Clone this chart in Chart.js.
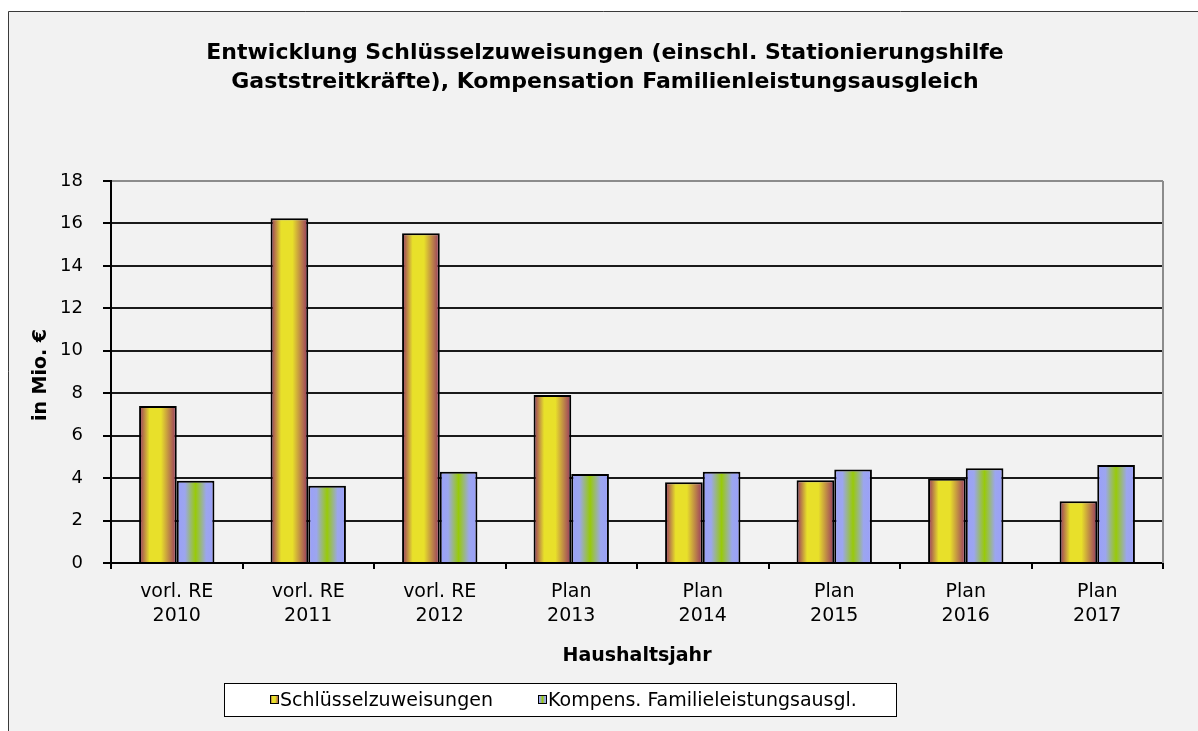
<!DOCTYPE html>
<html><head><meta charset="utf-8">
<script src="https://cdn.jsdelivr.net/npm/chart.js@4.4.1/dist/chart.umd.min.js"></script>
<style>html,body{margin:0;padding:0;background:#fff;overflow:hidden}</style>
</head><body>
<canvas id="c" width="1198" height="731" style="display:block;width:1198px;height:731px"></canvas>
<script>
// ---- data ----
const categories = [['vorl. RE','2010'],['vorl. RE','2011'],['vorl. RE','2012'],['Plan','2013'],['Plan','2014'],['Plan','2015'],['Plan','2016'],['Plan','2017']];
const schluesselzuweisungen = [7.40, 16.24, 15.54, 7.92, 3.80, 3.90, 3.97, 2.91];
const kompensFamilie = [3.88, 3.64, 4.30, 4.19, 4.30, 4.40, 4.46, 4.62];
const seriesNames = ['Schlüsselzuweisungen', 'Kompens. Familieleistungsausgl.'];
const yTickValues = [0, 2, 4, 6, 8, 10, 12, 14, 16, 18];
const titleLines = ['Entwicklung Schlüsselzuweisungen (einschl. Stationierungshilfe', 'Gaststreitkräfte), Kompensation Familienleistungsausgleich'];
const xAxisTitle = 'Haushaltsjahr';
const yAxisTitle = 'in Mio. €';

// ---- styles ----
const FONT = '"DejaVu Sans", Verdana, sans-serif';
const gradStops = [
  [[0, '#933060'], [0.28, '#e8e02a'], [0.58, '#e8e02a'], [1, '#963462']],
  [[0, '#9a9ffb'], [0.22, '#9ca6ee'], [0.5, '#98ca08'], [0.78, '#9ca6ee'], [1, '#9a9ffb']]
];
function makeGrad(ctx, x0, x1, idx) {
  const g = ctx.createLinearGradient(x0, 0, x1, 0);
  gradStops[idx].forEach(s => g.addColorStop(s[0], s[1]));
  return g;
}

const decor = {
  id: 'decor',
  beforeDraw(chart) {
    const ctx = chart.ctx;
    ctx.save();
    ctx.fillStyle = '#ffffff';
    ctx.fillRect(0, 0, chart.width, chart.height);
    ctx.fillStyle = '#f2f2f2';
    ctx.fillRect(8, 11, chart.width - 8, chart.height - 11);
    ctx.strokeStyle = '#3a3a3a';
    ctx.lineWidth = 1;
    ctx.beginPath();
    ctx.moveTo(8.5, chart.height);
    ctx.lineTo(8.5, 11.5);
    ctx.lineTo(chart.width, 11.5);
    ctx.stroke();
    ctx.restore();
  },
  beforeDatasetsDraw(chart) {
    const ctx = chart.ctx;
    chart.data.datasets.forEach((ds, di) => {
      const meta = chart.getDatasetMeta(di);
      meta.data.forEach(el => {
        const x0 = el.x - el.width / 2, x1 = el.x + el.width / 2;
        el.options = Object.assign({}, el.options, { backgroundColor: makeGrad(ctx, x0, x1, di) });
      });
    });
  },
  afterDraw(chart) {
    const ctx = chart.ctx;
    const a = chart.chartArea;
    ctx.save();
    // plot area right border
    ctx.strokeStyle = '#8c8c8c';
    ctx.lineWidth = 2;
    ctx.beginPath();
    ctx.moveTo(a.right, a.top);
    ctx.lineTo(a.right, a.bottom);
    ctx.stroke();
    // title
    ctx.fillStyle = '#000';
    ctx.textAlign = 'center';
    ctx.textBaseline = 'alphabetic';
    ctx.font = 'bold 22px ' + FONT;
    ctx.fillText(titleLines[0], 605, 59);
    ctx.fillText(titleLines[1], 605, 88);
    // x axis title
    ctx.font = 'bold 19px ' + FONT;
    ctx.fillText(xAxisTitle, (a.left + a.right) / 2, 661);
    // y axis title
    ctx.save();
    ctx.translate(46, (a.top + a.bottom) / 2 + 3);
    ctx.rotate(-Math.PI / 2);
    ctx.fillText(yAxisTitle, 0, 0);
    ctx.restore();
    // legend
    ctx.fillStyle = '#ffffff';
    ctx.fillRect(224, 683, 673, 34);
    ctx.strokeStyle = '#000';
    ctx.lineWidth = 1;
    ctx.strokeRect(224.5, 683.5, 672, 33);
    const items = [{ mx: 270, tx: 280 }, { mx: 538, tx: 548 }];
    ctx.font = '19px ' + FONT;
    ctx.textAlign = 'left';
    ctx.textBaseline = 'middle';
    items.forEach((it, i) => {
      ctx.fillStyle = makeGrad(ctx, it.mx, it.mx + 9, i);
      ctx.fillRect(it.mx, 695, 9, 9);
      ctx.strokeStyle = '#000';
      ctx.strokeRect(it.mx + 0.5, 695.5, 8, 8);
      ctx.fillStyle = '#000';
      ctx.fillText(chart.data.datasets[i].label, it.tx, 701);
    });
    ctx.restore();
  }
};

new Chart(document.getElementById('c'), {
  type: 'bar',
  data: {
    labels: categories,
    datasets: [
      { label: seriesNames[0], data: schluesselzuweisungen, backgroundColor: '#e8e02a', borderColor: '#000', borderWidth: 2 },
      { label: seriesNames[1], data: kompensFamilie, backgroundColor: '#9a9ffb', borderColor: '#000', borderWidth: 2 }
    ]
  },
  options: {
    responsive: false,
    devicePixelRatio: 1,
    animation: false,
    events: [],
    layout: { padding: { left: 0, top: 181, right: 35, bottom: 0 } },
    datasets: { bar: { categoryPercentage: 0.573, barPercentage: 1 } },
    plugins: { legend: { display: false }, title: { display: false }, tooltip: { enabled: false } },
    scales: {
      x: {
        offset: true,
        afterFit(s) { s.height = 168; },
        grid: { offset: true, drawOnChartArea: false, drawTicks: true, tickLength: 6, color: '#000', lineWidth: 2 },
        border: { display: true, color: '#000', width: 2 },
        ticks: { color: '#000', padding: 11, maxRotation: 0, autoSkip: false, font: { family: FONT, size: 19, lineHeight: 1.28 } }
      },
      y: {
        min: 0, max: 18,
        afterFit(s) { s.width = 111; },
        afterBuildTicks(s) { s.ticks = yTickValues.map(v => ({ value: v })); },
        grid: {
          color: c => (c.tick && c.tick.value === 18) ? '#8c8c8c' : '#1a1a1a',
          lineWidth: 2,
          tickColor: '#000', tickWidth: 2, tickLength: 8
        },
        border: { display: true, color: '#000', width: 2 },
        ticks: { color: '#000', padding: 20, font: { family: FONT, size: 18 } }
      }
    }
  },
  plugins: [decor]
});
</script>
</body></html>
